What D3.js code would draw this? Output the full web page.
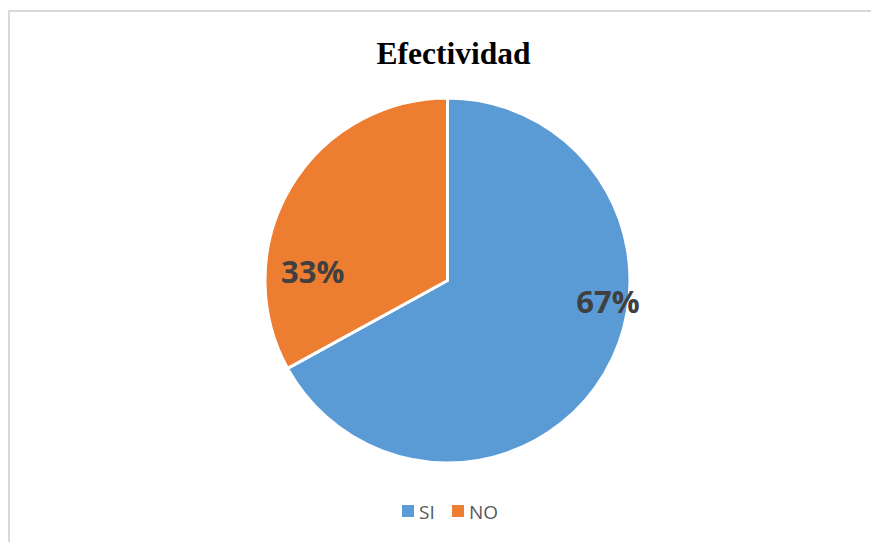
<html>

<head>
    <style>
        body { margin: 0; background: #fff; }
    </style>
</head>

<body>
    <svg id="chart"></svg>
</body>
<script src="https://cdnjs.cloudflare.com/ajax/libs/d3/7.8.5/d3.min.js"></script>
<script>
    const categories = ["SI", "NO"];
    const values = [67, 33];
    const colors = ["#5b9bd5", "#ed7d31"];

    const width = 871,
        height = 542;

    const svg = d3.select('#chart')
        .attr('width', width)
        .attr('height', height);

    // chart frame (only top and left show in the crop)
    svg.append('path')
        .attr('d', `M9,${height} V11 H${width}`)
        .attr('fill', 'none')
        .attr('stroke', '#d9d9d9')
        .attr('stroke-width', 2);

    svg.append('text')
        .attr('x', 453.5)
        .attr('y', 64)
        .attr('text-anchor', 'middle')
        .style('font-family', '"Liberation Serif", "Times New Roman", serif')
        .style('font-weight', 'bold')
        .style('font-size', '31.5px')
        .attr('fill', '#000')
        .text('Efectividad');

    const cx = 447.5, cy = 280.5, r = 182.5;

    const pie = d3.pie().sort(null).value(d => d);
    const arcs = pie(values);
    const arc = d3.arc().innerRadius(0).outerRadius(r);

    const g = svg.append('g').attr('transform', `translate(${cx},${cy})`);

    g.selectAll('path')
        .data(arcs)
        .enter().append('path')
        .attr('d', arc)
        .attr('fill', (d, i) => colors[i])
        .attr('stroke', '#fff')
        .attr('stroke-width', 3)
        .attr('stroke-linejoin', 'round');

    // label placement (excel "best fit"): angle shift from slice middle and radius
    const labelPos = [{ shift: -0.40, rad: 162 }, { shift: -0.47, rad: 135 }];

    g.selectAll('text.lbl')
        .data(arcs)
        .enter().append('text')
        .attr('class', 'lbl')
        .attr('x', (d, i) => Math.sin((d.startAngle + d.endAngle) / 2 + labelPos[i].shift) * labelPos[i].rad)
        .attr('y', (d, i) => -Math.cos((d.startAngle + d.endAngle) / 2 + labelPos[i].shift) * labelPos[i].rad)
        .attr('dy', '0.36em')
        .attr('text-anchor', 'middle')
        .style('font-family', '"Open Sans", sans-serif')
        .style('font-weight', 'bold')
        .style('font-size', '31px')
        .attr('fill', '#404040')
        .text(d => Math.round(d.data / d3.sum(values) * 100) + '%');

    // legend
    const legendX = [402, 452];
    const legend = svg.append('g');
    const items = legend.selectAll('g')
        .data(categories)
        .enter().append('g')
        .attr('transform', (d, i) => `translate(${legendX[i]},505)`);
    items.append('rect')
        .attr('width', 12)
        .attr('height', 12)
        .attr('fill', (d, i) => colors[i]);
    items.append('text')
        .attr('x', 17)
        .attr('y', 14)
        .style('font-family', '"Open Sans", sans-serif')
        .style('font-size', '19px')
        .attr('fill', '#595959')
        .text(d => d);
</script>

</html>
